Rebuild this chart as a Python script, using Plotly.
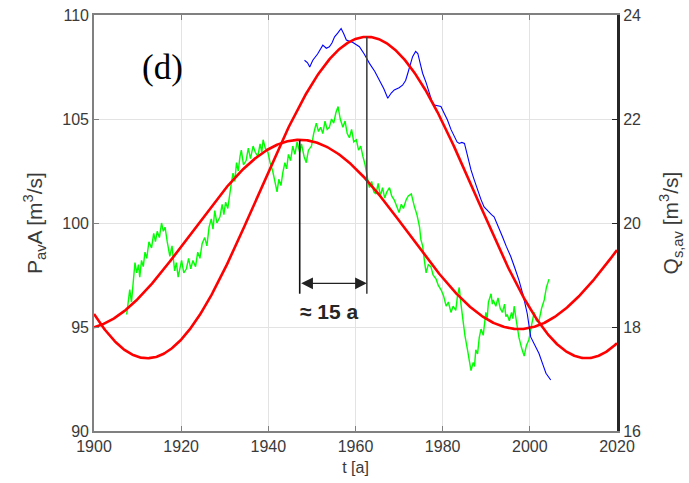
import numpy as np
import plotly.graph_objects as go

# ---------------- data ----------------
green_years = [1907.5, 1907.9, 1908.2, 1908.6, 1909.0, 1909.4, 1909.8, 1910.2, 1910.5, 1910.9,
               1911.3, 1911.7, 1912.1, 1912.6, 1913.2, 1913.7, 1914.1, 1914.5, 1915.0, 1915.5,
               1915.9, 1916.3, 1916.8, 1917.4, 1917.9, 1918.5, 1918.9, 1919.3, 1919.8, 1920.1,
               1920.6, 1921.2, 1921.7, 1922.2, 1922.7, 1923.3, 1923.8, 1924.3, 1924.8, 1925.4,
               1925.9, 1926.4, 1926.9, 1927.3, 1927.7, 1928.2, 1928.9, 1929.4, 1929.8, 1930.2,
               1930.7, 1931.1, 1931.5, 1931.9, 1932.3, 1932.7, 1933.1, 1933.5, 1933.8, 1934.3,
               1934.9, 1935.4, 1935.9, 1936.5, 1937.0, 1937.6, 1938.1, 1938.5, 1938.8, 1939.3,
               1939.9, 1940.4, 1941.0, 1941.5, 1942.0, 1942.4, 1942.9, 1943.3, 1943.8, 1944.2,
               1944.6, 1945.1, 1945.6, 1946.1, 1946.6, 1947.2, 1947.6, 1948.2, 1948.7, 1949.2,
               1949.9, 1950.4, 1951.0, 1951.5, 1952.0, 1952.5, 1953.0, 1953.5, 1954.0, 1954.5,
               1955.0, 1955.5, 1956.0, 1956.5, 1957.1, 1957.6, 1958.1, 1958.6, 1959.1, 1959.6,
               1960.2, 1960.7, 1961.2, 1961.7, 1962.2, 1962.8, 1963.2, 1963.7, 1964.2, 1964.7,
               1965.2, 1965.7, 1966.2, 1966.7, 1967.2, 1967.8, 1968.3, 1968.9, 1969.4, 1970.0,
               1970.5, 1971.0, 1971.6, 1972.1, 1972.8, 1973.2, 1973.5, 1974.1, 1974.7, 1975.0,
               1975.4, 1975.8, 1976.2, 1976.7, 1977.3, 1977.8, 1978.5, 1979.0, 1979.6, 1980.2,
               1980.8, 1981.3, 1981.9, 1982.4, 1983.0, 1983.4, 1983.8, 1984.2, 1984.6, 1985.1,
               1985.7, 1986.1, 1986.5, 1987.0, 1987.3, 1987.6, 1988.0, 1988.4, 1988.8, 1989.3,
               1989.6, 1989.9, 1990.2, 1990.5, 1991.1, 1991.4, 1991.6, 1992.2, 1992.7, 1993.2,
               1993.7, 1994.2, 1994.5, 1994.8, 1995.3, 1995.8, 1996.1, 1996.4, 1996.9, 1997.5,
               1998.1, 1998.7, 1999.2, 1999.8, 2000.4, 2001.0, 2001.5, 2002.1, 2002.7, 2003.3,
               2003.8, 2004.4]
green_vals = [95.6, 96.3, 96.8, 96.2, 97.4, 98.1, 97.6, 98.0, 97.4, 98.2,
              97.9, 98.6, 98.3, 99.1, 98.8, 99.5, 99.1, 99.6, 99.3, 100.0,
              99.6, 99.8, 99.1, 98.4, 98.9, 97.7, 98.1, 97.4, 97.9, 98.2,
              97.6, 97.8, 98.3, 97.8, 98.2, 97.9, 98.6, 98.3, 99.0, 99.3,
              98.9, 99.8, 100.2, 99.7, 100.6, 100.0, 100.3, 100.9, 100.4, 101.0,
              100.7, 101.4, 101.9, 102.4, 102.0, 102.9, 102.5, 103.2, 103.5, 102.8,
              103.0, 103.6, 103.1, 103.7, 103.4, 103.2, 103.8, 103.4, 104.0, 103.6,
              103.4, 102.9, 102.5, 102.0, 101.5, 102.1, 101.8, 102.4, 102.9, 102.6,
              103.3, 103.0, 103.7, 103.3, 103.9, 103.4, 103.8, 103.2, 102.9, 103.5,
              103.7, 104.3, 104.8, 104.4, 104.6, 104.3, 104.9, 104.5, 104.6, 105.0,
              104.8, 105.3, 105.6, 105.0, 104.6, 104.9, 104.3, 104.1, 104.5, 103.9,
              104.0, 103.5, 103.7, 103.2, 102.8, 102.1, 101.7, 102.0, 101.5, 101.4,
              101.9, 101.3, 101.7, 101.2, 101.5, 101.7, 101.3, 101.1, 100.8, 100.5,
              100.9, 100.7, 101.1, 101.3, 101.4, 101.0, 100.8, 100.4, 99.8, 99.2,
              98.9, 98.2, 97.6, 98.0, 97.9, 97.5, 97.3, 97.0, 96.8, 96.5,
              96.0, 96.2, 95.7, 96.0, 95.8, 96.5, 96.9, 96.1, 95.3, 94.6,
              93.9, 93.4, 92.9, 93.3, 93.1, 93.9, 93.7, 94.5, 94.9, 94.6,
              95.3, 95.7, 95.4, 96.2, 96.6, 96.1, 96.3, 96.0, 96.4, 95.9,
              95.7, 96.1, 95.5, 95.6, 95.3, 95.7, 95.4, 96.0, 95.3, 94.5,
              94.0, 93.6, 94.1, 94.4, 95.1, 95.7, 95.3, 95.3, 95.9, 96.3,
              96.9, 97.3]

blue_years = [1948.3, 1949.0, 1949.5, 1950.2, 1951.3, 1952.5, 1953.3, 1954.0, 1954.6, 1955.2,
              1956.0, 1956.7, 1957.3, 1957.9, 1959.4, 1960.9, 1962.0, 1963.2, 1964.4, 1965.5,
              1966.5, 1967.4, 1968.2, 1968.9, 1970.0, 1970.8, 1971.5, 1972.0, 1972.6, 1973.1,
              1973.8, 1974.3, 1974.9, 1975.4, 1976.2, 1976.9, 1977.5, 1978.1, 1979.0, 1979.6,
              1980.4, 1981.1, 1981.9, 1982.7, 1983.3, 1983.8, 1984.4, 1985.0, 1985.8, 1986.5,
              1987.2, 1988.0, 1988.8, 1989.5, 1990.1, 1990.7, 1991.2, 1991.8, 1992.7, 1993.7,
              1994.6, 1995.6, 1996.5, 1997.5, 1998.5, 1999.4, 2000.2, 2001.1, 2002.1, 2002.9,
              2003.7, 2004.8]
blue_vals = [23.13, 23.08, 23.00, 23.13, 23.25, 23.42, 23.36, 23.39, 23.46, 23.58,
             23.66, 23.74, 23.64, 23.52, 23.47, 23.39, 23.25, 23.07, 22.92, 22.75,
             22.58, 22.40, 22.50, 22.56, 22.60, 22.65, 22.74, 22.88, 23.05, 23.20,
             23.30, 23.26, 23.05, 22.88, 22.70, 22.49, 22.35, 22.27, 22.26, 22.24,
             22.10, 21.98, 21.80, 21.66, 21.56, 21.53, 21.55, 21.53, 21.25, 21.02,
             20.84, 20.63, 20.45, 20.31, 20.25, 20.19, 20.16, 20.12, 19.95, 19.74,
             19.55, 19.36, 19.15, 18.90, 18.60, 18.26, 17.81, 17.66, 17.49, 17.30,
             17.11, 16.98]

# fitted sinusoids (mean, amplitude, year of maximum, period)
fitA_mean, fitA_amp, fitA_peak, fitA_period = 99.45, 4.55, 1947.2, 100.6   # left axis
fitB_mean, fitB_amp, fitB_peak, fitB_period = 20.49, 3.09, 1962.6, 100.8   # right axis

x_ticks = [1900, 1920, 1940, 1960, 1980, 2000, 2020]
yl_ticks = [90, 95, 100, 105, 110]
yr_ticks = [16, 18, 20, 22, 24]

lag_label = "≈ 15 a"
panel_label = "(d)"

# ---------------- figure ----------------
t = np.linspace(1900, 2020, 601)
fitA = fitA_mean + fitA_amp * np.cos(2 * np.pi * (t - fitA_peak) / fitA_period)
fitB = fitB_mean + fitB_amp * np.cos(2 * np.pi * (t - fitB_peak) / fitB_period)

fig = go.Figure()
fig.add_trace(go.Scatter(x=green_years, y=green_vals, mode="lines",
                         line=dict(color="#00ff00", width=1.4), yaxis="y", showlegend=False))
fig.add_trace(go.Scatter(x=blue_years, y=blue_vals, mode="lines",
                         line=dict(color="#0000ff", width=1.1), yaxis="y2", showlegend=False))
fig.add_trace(go.Scatter(x=t, y=fitA, mode="lines",
                         line=dict(color="#ff0000", width=2.6), yaxis="y", showlegend=False))
fig.add_trace(go.Scatter(x=t, y=fitB, mode="lines",
                         line=dict(color="#ff0000", width=2.6), yaxis="y2", showlegend=False))

# convert right-axis value to left-axis value (both axes span 4 grid intervals)
def r2l(v):
    return yl_ticks[0] + (v - yr_ticks[0]) * (yl_ticks[-1] - yl_ticks[0]) / (yr_ticks[-1] - yr_ticks[0])

arrow_y = 97.1
line_bottom = 96.6
peakA_val = fitA_mean + fitA_amp
peakB_val = r2l(fitB_mean + fitB_amp)

fig.add_shape(type="line", xref="x", yref="y", x0=fitA_peak, x1=fitA_peak,
              y0=line_bottom, y1=peakA_val, line=dict(color="#111111", width=1.6))
fig.add_shape(type="line", xref="x", yref="y", x0=fitB_peak, x1=fitB_peak,
              y0=line_bottom, y1=peakB_val, line=dict(color="#444444", width=1.6))

fig.add_annotation(x=fitB_peak, y=arrow_y, ax=fitA_peak, ay=arrow_y,
                   xref="x", yref="y", axref="x", ayref="y",
                   showarrow=True, arrowhead=2, startarrowhead=2, arrowside="end+start",
                   arrowsize=1.8, startarrowsize=1.8, arrowwidth=1.3, arrowcolor="#222222",
                   standoff=0, startstandoff=0, text="")
fig.add_annotation(x=1954.0, y=95.75, xref="x", yref="y",
                   text="<b>" + lag_label + "</b>", showarrow=False,
                   font=dict(family="Liberation Sans, Arial", size=21, color="#262626"))
fig.add_annotation(x=1915.8, y=107.5, xref="x", yref="y", text=panel_label, showarrow=False,
                   font=dict(family="Liberation Serif, Times New Roman", size=35, color="#000000"))

tick_font = dict(family="Liberation Sans, Arial", size=16, color="#3a3a3a")
title_font = dict(family="Liberation Sans, Arial", size=21, color="#3a3a3a")

fig.update_layout(
    width=689, height=483,
    margin=dict(l=94, r=72, t=15, b=52),
    paper_bgcolor="white", plot_bgcolor="white",
    xaxis=dict(range=[1900, 2020], tickvals=x_ticks, ticktext=[str(v) for v in x_ticks],
               showgrid=True, gridcolor="#e3e3e3", gridwidth=1, automargin=False,
               showline=True, linecolor="#808080", linewidth=1.6, mirror="ticks",
               ticks="inside", ticklen=5, tickcolor="#808080",
               tickfont=tick_font, zeroline=False,
               title=dict(text="t [a]", font=dict(family="Liberation Sans, Arial", size=16, color="#3a3a3a"),
                          standoff=8)),
    yaxis=dict(range=[90, 110], tickvals=yl_ticks, ticktext=[str(v) for v in yl_ticks],
               showgrid=True, gridcolor="#e3e3e3", gridwidth=1, automargin=False,
               showline=True, linecolor="#808080", linewidth=1.6,
               ticks="inside", ticklen=5, tickcolor="#808080",
               tickfont=tick_font, zeroline=False,
               title=dict(text="P<sub>av</sub>A [m<sup>3</sup>/s]", font=title_font, standoff=14)),
    yaxis2=dict(range=[16, 24], tickvals=yr_ticks, ticktext=[str(v) for v in yr_ticks],
                overlaying="y", side="right", showgrid=False, automargin=False,
                showline=True, linecolor="#262626", linewidth=3,
                ticks="inside", ticklen=5, tickcolor="#262626",
                tickfont=tick_font, zeroline=False,
                title=dict(text="Q<sub>s,av</sub> [m<sup>3</sup>/s]", font=title_font, standoff=24)),
)

fig.write_html("out.html")
